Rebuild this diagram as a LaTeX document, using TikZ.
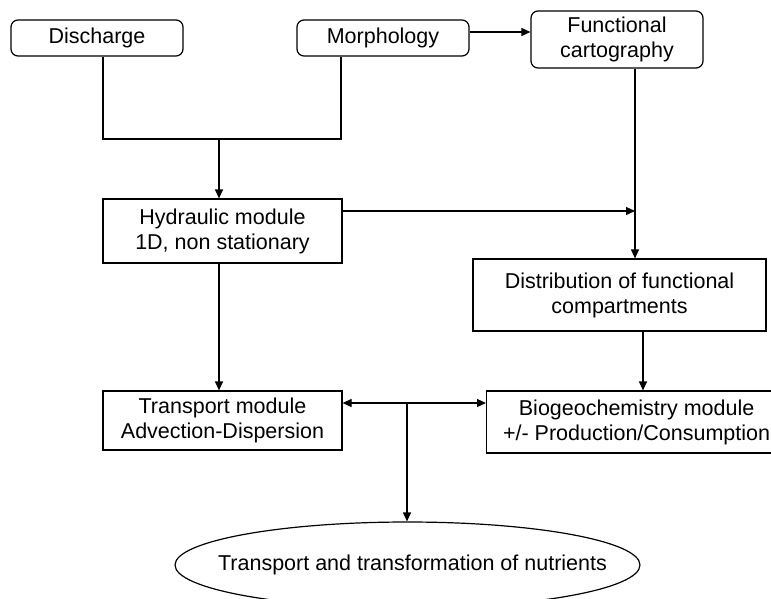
\documentclass[tikz,border=0pt]{standalone}
\usepackage{fontspec}
\setmainfont{Liberation Sans}
\usetikzlibrary{arrows.meta,shapes.geometric}
\begin{document}
\begin{tikzpicture}[x=1pt,y=-1pt,
  every node/.style={font=\fontsize{21.5}{25}\selectfont, align=center, inner sep=0pt},
  rbox/.style={draw, line width=1.2pt, rounded corners=7pt},
  sbox/.style={draw, line width=1.2pt},
  conn/.style={line width=1.2pt},
  arr/.style={conn, -{Triangle[length=9pt,width=8pt]}},
  darr/.style={conn, {Triangle[length=9pt,width=8pt]}-{Triangle[length=9pt,width=8pt]}}]
\useasboundingbox (0,0) rectangle (771,598);
\clip (0,0) rectangle (771,598);
\fill[white] (0,0) rectangle (771,598);
% nodes
\node[rbox, minimum width=172pt, minimum height=36pt] (dis) at (97,38) {Discharge};
\node[rbox, minimum width=172pt, minimum height=36pt] (mor) at (383,38) {Morphology};
\node[rbox, minimum width=172pt, minimum height=57pt] (fun) at (617,39.5) {Functional\\cartography};
\node[sbox, minimum width=239pt, minimum height=64pt] (hyd) at (222.5,231) {Hydraulic module\\1D, non stationary};
\node[sbox, minimum width=293pt, minimum height=72pt] (dist) at (619.5,295) {Distribution of functional\\compartments};
\node[sbox, minimum width=239pt, minimum height=59pt] (tra) at (222.5,420.5) {Transport module\\Advection-Dispersion};
\node[sbox, minimum width=300pt, minimum height=62pt, anchor=west] (bio) at (486,422) {Biogeochemistry module\\+/- Production/Consumption};
\node[draw, ellipse, line width=1.2pt, minimum width=465pt, minimum height=86pt] (out) at (407.5,565) {\makebox[0pt]{\hspace*{10pt}Transport and transformation of nutrients}};
% coordinates
\coordinate (j1) at (219,139);
\coordinate (j2) at (635,211);
\coordinate (j3) at (407,403);
% connectors
\draw[conn] (dis.south -| 103,0) -- (103,139) -- (341,139) -- (mor.south -| 341,0);
\draw[arr] (j1) -- (hyd.north -| j1);
\draw[arr] (mor.east |- 0,32) -- (fun.west |- 0,32);
\draw[arr] (fun.south -| j2) -- (dist.north -| j2);
\draw[arr] (hyd.east |- j2) -- (j2);
\draw[arr] (hyd.south -| j1) -- (tra.north -| j1);
\draw[arr] (dist.south -| 643,0) -- (bio.north -| 643,0);
\draw[darr] (tra.east |- j3) -- (bio.west |- j3);
\draw[arr] (j3) -- (out.north -| j3);
\end{tikzpicture}
\end{document}
